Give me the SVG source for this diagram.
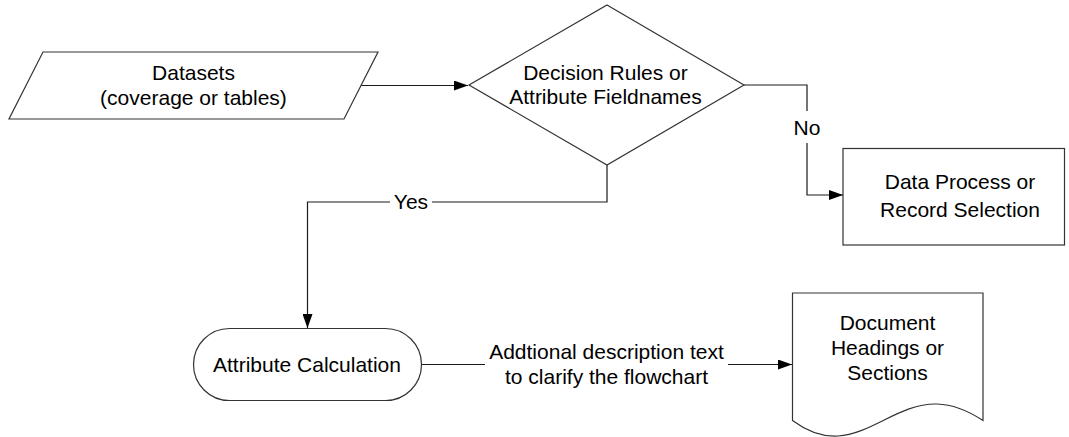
<svg xmlns="http://www.w3.org/2000/svg" width="1069" height="437" viewBox="0 0 1069 437">
  <style>
    .shape { fill: #ffffff; stroke: #333333; stroke-width: 1.2; }
    .conn { fill: none; stroke: #1a1a1a; stroke-width: 1.2; marker-end: url(#arrow); }
    .label { font-family: "Liberation Sans", Arial, sans-serif; font-size: 21px; fill: #000000; text-anchor: middle; }
    .bg { fill: #ffffff; stroke: none; }
  </style>
  <defs>
    <marker id="arrow" viewBox="0 0 14 10" refX="14" refY="5" markerWidth="14" markerHeight="10" markerUnits="userSpaceOnUse" orient="auto">
      <path d="M0,0 L14,5 L0,10 Z" fill="#000000"/>
    </marker>
  </defs>
  <rect width="1069" height="437" fill="#ffffff"/>

  <!-- connectors -->
  <g id="connectors">
    <path class="conn" d="M361,85.5 H468"/>
    <path class="conn" d="M743.5,85 H807 V195 H843"/>
    <path class="conn" d="M607,165 V202 H307.5 V328"/>
    <path class="conn" d="M422,364.5 H792"/>
    <!-- connector labels -->
    <rect class="bg" x="800" y="111" width="16" height="32"/>
    <text class="label" x="807" y="135">No</text>
    <rect class="bg" x="390" y="195" width="42" height="14"/>
    <text class="label" x="411" y="209">Yes</text>
    <rect class="bg" x="485" y="340" width="243" height="50"/>
    <text class="label" x="606.5" y="358.5">Addtional description text</text>
    <text class="label" x="606.5" y="383.5">to clarify the flowchart</text>
  </g>

  <!-- data input -->
  <g id="datasets">
    <polygon class="shape" points="43,52 378,52 344,119 9,119"/>
    <text class="label" x="193.5" y="80">Datasets</text>
    <text class="label" x="193.5" y="105">(coverage or tables)</text>
  </g>

  <!-- decision -->
  <g id="decision">
    <polygon class="shape" points="607,5 744,85 607,165 469,85"/>
    <text class="label" x="605.5" y="80">Decision Rules or</text>
    <text class="label" x="605.5" y="104">Attribute Fieldnames</text>
  </g>

  <!-- process -->
  <g id="process">
    <rect class="shape" x="843" y="148.5" width="221.5" height="96.5"/>
    <text class="label" x="960" y="189">Data Process or</text>
    <text class="label" x="960" y="216.5">Record Selection</text>
  </g>

  <!-- terminator -->
  <g id="calculation">
    <rect class="shape" x="193.5" y="328.5" width="228" height="72" rx="36" ry="36"/>
    <text class="label" x="307" y="372">Attribute Calculation</text>
  </g>

  <!-- document -->
  <g id="document">
    <path class="shape" d="M792.5,293 H983 V420.5 C970,412 955,404.5 937,404 C900,403 872,434 838,436 C822,437 808,432 792.5,420.5 Z"/>
    <text class="label" x="887.5" y="330">Document</text>
    <text class="label" x="887.5" y="355">Headings or</text>
    <text class="label" x="887.5" y="380">Sections</text>
  </g>
</svg>
